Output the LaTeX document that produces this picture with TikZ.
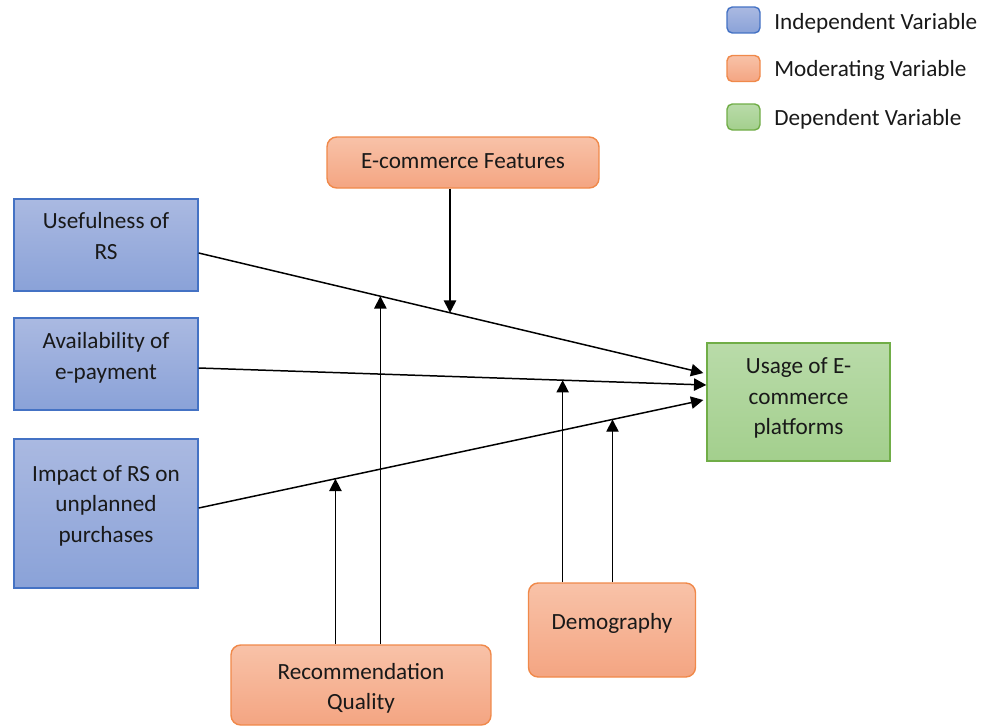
\documentclass[tikz,border=0pt]{standalone}
\usepackage{fontspec}
\setmainfont{Carlito}
\usetikzlibrary{arrows.meta,calc}
\definecolor{ivarline}{HTML}{4472C4}
\definecolor{ivartop}{HTML}{AAB9E1}
\definecolor{ivarbot}{HTML}{8AA2D8}
\definecolor{mvarline}{HTML}{F0894A}
\definecolor{mvartop}{HTML}{F8C2A8}
\definecolor{mvarbot}{HTML}{F4A582}
\definecolor{dvarline}{HTML}{70AD47}
\definecolor{dvartop}{HTML}{B9DBA9}
\definecolor{dvarbot}{HTML}{A3CF8D}
\begin{document}
\begin{tikzpicture}[x=0.02cm,y=-0.02cm,
  font=\fontsize{13.2}{17.4}\selectfont,
  box/.style={draw,line width=0.8pt,inner sep=0pt},
  ivar/.style={box,draw=ivarline,top color=ivartop,bottom color=ivarbot},
  mvar/.style={box,rounded corners=5.5pt,draw=mvarline,top color=mvartop,bottom color=mvarbot},
  dvar/.style={box,draw=dvarline,top color=dvartop,bottom color=dvarbot},
  keybox/.style={rounded corners=3pt,minimum width=0.66cm,minimum height=0.52cm},
  txt/.style={align=center,inner sep=0pt,text=black!90},
  link/.style={line width=0.85pt,-{Triangle[width=7pt,length=7pt]}}]
\useasboundingbox (0,0) rectangle (986,727);

% legend
\node[ivar,keybox] (key-i) at (743.5,20) {};
\node[mvar,keybox] (key-m) at (743.5,68.5) {};
\node[dvar,keybox] (key-d) at (743.5,117) {};
\node[txt,anchor=base west] (key-i-t) at (774,29) {Independent Variable};
\node[txt,anchor=base west] (key-m-t) at (774,76) {Moderating Variable};
\node[txt,anchor=base west] (key-d-t) at (774,125) {Dependent Variable};

% independent variables
\node[ivar,minimum width=3.68cm,minimum height=1.84cm] (use) at (106,245) {};
\node[ivar,minimum width=3.68cm,minimum height=1.84cm] (pay) at (106,364) {};
\node[ivar,minimum width=3.68cm,minimum height=2.98cm] (imp) at (106,513.5) {};
\node[txt] (use-t) at ($(use)+(0,-9)$) {Usefulness of\\RS};
\node[txt] (pay-t) at ($(pay)+(0,-6)$) {Availability of\\e-payment};
\node[txt] (imp-t) at ($(imp)+(0,-8)$) {Impact of RS on\\unplanned\\purchases};

% dependent variable
\node[dvar,minimum width=3.66cm,minimum height=2.36cm] (dep) at (798.5,402) {};
\node[txt] (dep-t) at ($(dep)+(0,-4)$) {Usage of E-\\commerce\\platforms};

% moderating variables
\node[mvar,minimum width=5.44cm,minimum height=1.02cm] (feat) at (463,162.5) {};
\node[mvar,minimum width=3.34cm,minimum height=1.88cm] (demo) at (612,630) {};
\node[mvar,minimum width=5.2cm,minimum height=1.6cm] (rec) at (361,685) {};
\node[txt] (feat-t) at ($(feat)+(0,-1.5)$) {E-commerce Features};
\node[txt] (demo-t) at ($(demo)+(0,-6.5)$) {Demography};
\node[txt] (rec-t) at ($(rec)+(0,3.5)$) {Recommendation\\Quality};

% paths to the dependent variable
\draw[link] ($(use.east)+(0,8)$) -- coordinate[pos=0.498] (use-m1) coordinate[pos=0.36] (use-m2) ($(dep.west)+(-3,-29)$);
\draw[link] ($(pay.east)+(0,4)$) -- coordinate[pos=0.717] (pay-m1) ($(dep.west)+(0,-17)$);
\draw[link] ($(imp.east)+(0,-5.5)$) -- coordinate[pos=0.271] (imp-m1) coordinate[pos=0.82] (imp-m2) ($(dep.west)+(-3,-2)$);

% moderating effects
\draw[link] (feat.south -| use-m1) -- (use-m1);
\draw[link] (rec.north -| use-m2) -- (use-m2);
\draw[link] (rec.north -| imp-m1) -- (imp-m1);
\draw[link] (demo.north -| pay-m1) -- (pay-m1);
\draw[link] (demo.north -| imp-m2) -- (imp-m2);
\end{tikzpicture}
\end{document}
